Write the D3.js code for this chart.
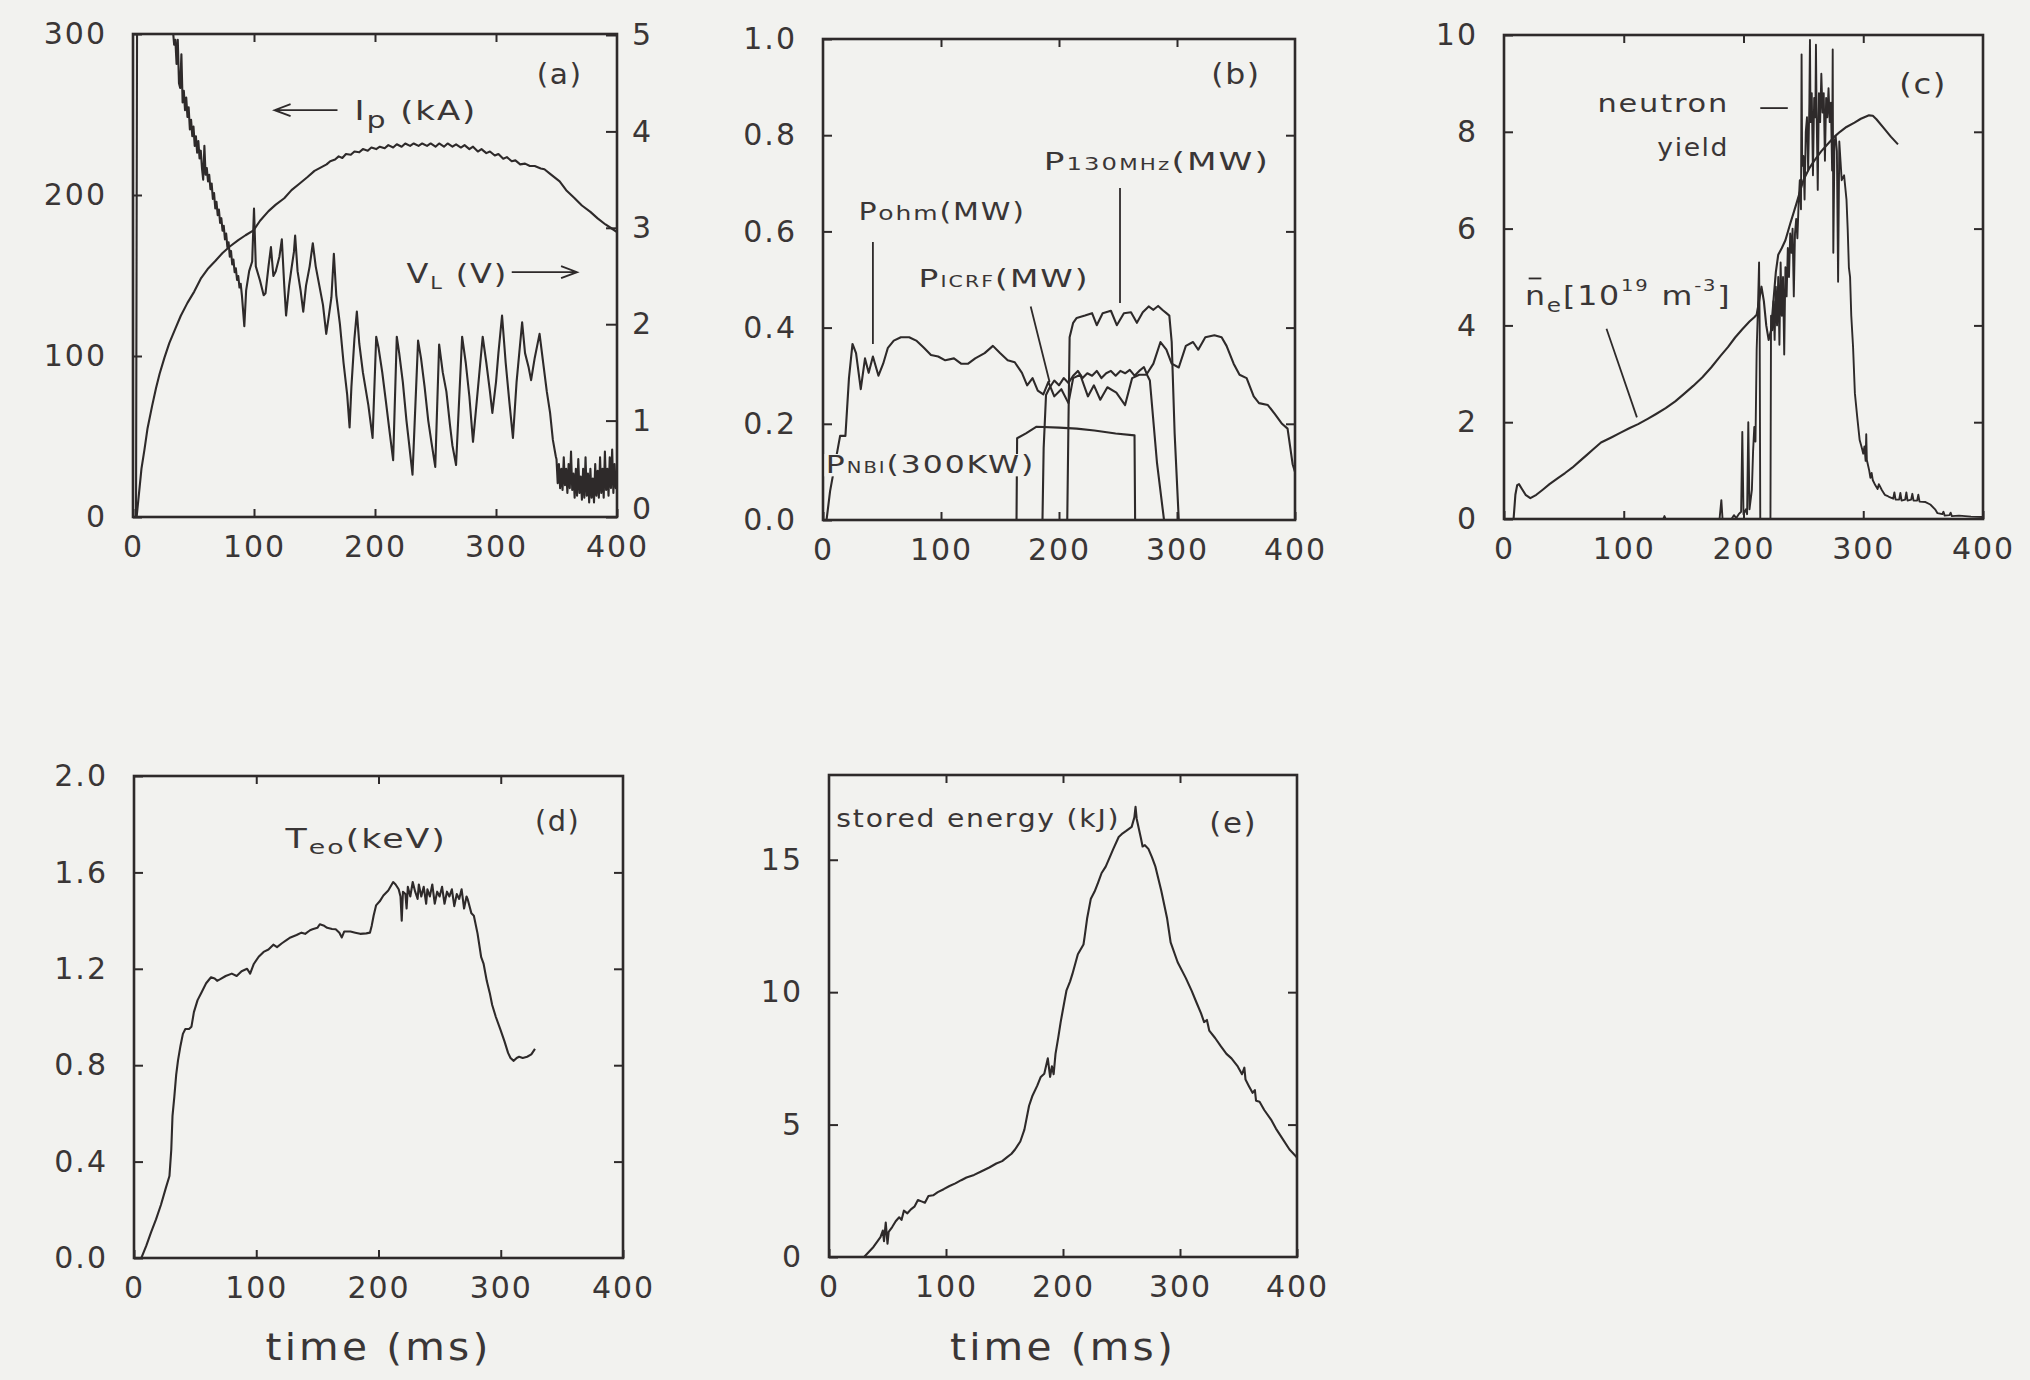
<!DOCTYPE html>
<html>
<head>
<meta charset="utf-8">
<title>Discharge waveforms</title>
<script src="https://cdn.jsdelivr.net/npm/d3@7/dist/d3.min.js"></script>
<style>
  html, body { margin: 0; padding: 0; background: #f2f2ef; }
  svg { display: block; }
</style>
</head>
<body>
<svg id="fig" width="2030" height="1380"></svg>
<script>
// ---------------------------------------------------------------- data
// time axis shared by all panels (ms)
const timeTicks = [0, 100, 200, 300, 400];

// (a) plasma current (kA) and loop voltage (V)
const ipTicks = [0, 100, 200, 300];
const vlTicks = [0, 1, 2, 3, 4, 5];
const plasmaCurrent = [
  [0,0],[3,0],[5,15],[7,30],[9.5,42],[12,55],[15.8,69],[19,80],[22,89],[26,99],[30,108],[35,117],
  [39.5,125],[45,133],[50.6,140],[56,148],[61.7,154],[68,159],[74,164],[80,168],[87,172],[93,175],
  [99.6,178],[105,184],[112,190],[118,194],[125,198],[131,203],[137.5,207],[144,211],[150,215],
  [155,217],[160,219],[163,221],[167,222],[170,224],[173,223],[176,225.5],[180,225],[183,227],
  [187,226.5],[190,228.5],[194,227.5],[197,229.5],[201,228.5],[204,230],[208,229],[211,231],
  [215,229.5],[218,231.5],[222,230],[225,232],[229,230.5],[232,232],[236,230.5],[239,232],
  [243,230.5],[246,232],[250,230],[253,232],[257,230],[260,232],[264,230],[267,231.5],[271,229.5],
  [274,231],[278,228.5],[281,230],[285,227],[288,228.5],[292,226],[295,227],[299,224.5],[302,225.5],
  [306,222.5],[309,223.5],[313,221],[316,221.5],[320,219],[324,219.5],[328,218],[332,218],
  [337,216.5],[340,216],[345,213],[352.6,208.5],[358,203],[365,198],[371,193.5],[378,189.5],
  [384,185.5],[390.5,181.7],[395,179.5],[400,177]
];
const loopVoltage = [
  [0,0],[2.5,0],[3.5,6],[32,6],[33,5.05],[34,4.9],[35,4.95],[36,4.7],[37,4.95],[38,4.5],[39,4.45],
  [40,4.8],[41,4.3],[42,4.42],[43,4.22],[44,4.35],[45,4.15],[46,4.25],[47,4.02],[48,4.12],[49,3.95],
  [50,4.05],[51,3.85],[52,3.95],[53,3.78],[54,3.9],[55,3.72],[56,3.8],[57,3.62],[58,3.5],[59,3.85],
  [60,3.55],[61,3.62],[62,3.48],[63,3.55],[64,3.4],[65,3.46],[66,3.3],[67,3.36],[68,3.2],[69,3.27],
  [70,3.13],[71,3.19],[72,3.05],[73,3.1],[74,2.97],[75,3.02],[76,2.88],[77,2.94],[78,2.8],[79,2.85],
  [80,2.7],[81,2.76],[82,2.62],[83,2.67],[84,2.54],[85,2.58],[86,2.46],[87,2.5],[88,2.38],[89,2.42],
  [90,2.3],[92,1.98],[93.5,2.35],[96,2.55],[98.5,2.65],[100,3.2],[101.5,2.6],[105,2.45],[108,2.3],
  [109.5,2.32],[112,2.6],[114,2.8],[116,2.5],[118,2.55],[121,2.7],[123,2.88],[125,2.4],[126.5,2.09],
  [129,2.4],[131,2.58],[133,2.75],[134,2.92],[136,2.55],[138.5,2.35],[140.7,2.13],[143,2.4],[146,2.6],
  [148.6,2.84],[151,2.6],[154,2.4],[157,2.2],[159.7,1.9],[162,2.1],[164,2.28],[166,2.73],[168,2.3],
  [171,2.0],[174,1.6],[177,1.27],[179,0.93],[180.5,1.35],[183,1.85],[185,2.13],[187,1.8],[190,1.5],
  [194.5,1.16],[198,0.82],[201,1.87],[203,1.75],[206,1.5],[209,1.2],[212,0.89],[215,0.59],
  [218,1.87],[220,1.7],[223,1.4],[226,1.0],[228,0.78],[231,0.44],[235.6,1.83],[238,1.65],
  [241,1.35],[244,1.0],[246.6,0.78],[249.8,0.52],[253,1.79],[256,1.5],[259,1.3],[262,0.95],
  [264,0.74],[267,0.54],[272,1.87],[275,1.6],[278,1.25],[281,0.78],[286,1.46],[289,1.87],
  [292,1.6],[295,1.3],[297,1.08],[300,1.4],[302,1.7],[305,2.09],[308,1.6],[311,1.2],[314,0.82],
  [317,1.4],[321.6,2.02],[324,1.7],[327,1.55],[329,1.42],[332,1.65],[336,1.9],[339,1.6],[342,1.3],
  [344.7,1.08],[347,0.8],[349.4,0.63],[350,0.6],[351,0.35],[352,0.55],[353,0.3],[354,0.5],
  [355,0.28],[356,0.62],[357,0.33],[358,0.5],[359,0.25],[360,0.55],[361,0.3],[362,0.68],
  [363,0.28],[364,0.45],[365,0.2],[366,0.5],[367,0.22],[368,0.6],[369,0.25],[370,0.42],[371,0.18],
  [372,0.5],[373,0.2],[374,0.62],[375,0.22],[376,0.45],[377,0.15],[378,0.5],[379,0.2],[380,0.4],
  [381,0.15],[382,0.55],[383,0.22],[384,0.48],[385,0.2],[386,0.62],[387,0.25],[388,0.5],[389,0.2],
  [390,0.68],[391,0.28],[392,0.5],[393,0.22],[394,0.62],[395,0.3],[396,0.7],[397,0.25],[398,0.55],
  [399,0.3],[400,0.45]
];

// (b) heating powers (MW)
const powerTicks = [0, 0.2, 0.4, 0.6, 0.8, 1.0];
const ohmicPower = [
  [3,0],[6,0.06],[14.5,0.175],[19,0.175],[22,0.295],[25,0.366],[28,0.347],[32,0.272],[35.6,0.336],
  [38.7,0.306],[42.3,0.34],[47,0.30],[51,0.325],[55,0.358],[60,0.373],[66,0.38],[73,0.38],[79,0.373],
  [85.5,0.358],[91.5,0.343],[97.6,0.34],[103.6,0.332],[111,0.336],[117,0.325],[123,0.325],[129,0.336],
  [137,0.347],[144,0.362],[150,0.347],[156.5,0.332],[162.5,0.328],[168.6,0.306],[173,0.28],
  [177.6,0.295],[182,0.269],[186.7,0.261],[191,0.287],[196,0.257],[202,0.272],[208,0.243],[212,0.295],
  [218,0.302],[224.5,0.257],[229.6,0.28],[235,0.25],[241,0.276],[248.6,0.265],[256,0.239],[262,0.295],
  [268,0.302],[274,0.302],[280,0.325],[286,0.37],[291,0.354],[295.5,0.325],[301.5,0.317],[307.5,0.362],
  [313.6,0.37],[318,0.354],[324,0.38],[331.7,0.384],[337.8,0.38],[342,0.362],[348,0.325],[353,0.302],
  [359,0.295],[365,0.257],[369.5,0.243],[377,0.239],[383,0.22],[389,0.2],[393.7,0.19],[398,0.116],
  [400,0.1]
];
const icrfPower = [
  [186,0],[187,0.15],[189,0.26],[192,0.275],[196,0.29],[200,0.28],[204,0.295],[208,0.285],[212,0.30],
  [216,0.31],[220,0.295],[224,0.305],[228,0.3],[232,0.31],[236,0.295],[240,0.305],[244,0.31],
  [248,0.3],[252,0.31],[256,0.305],[260,0.312],[264,0.3],[268,0.31],[272,0.318],[275,0.3],[277,0.29],
  [283,0.12],[289,0]
];
const mhz130Power = [
  [207,0],[208,0.2],[209,0.38],[212,0.41],[215,0.42],[222,0.425],[228,0.43],[232,0.405],[237,0.43],
  [244,0.435],[249,0.405],[255,0.43],[261,0.432],[266,0.41],[271,0.432],[276,0.444],[280,0.437],
  [284,0.445],[288,0.436],[291,0.43],[293.5,0.425],[295.5,0.37],[298,0.18],[301.5,0]
];
const nbiPower = [
  [164,0],[164.5,0.17],[172,0.18],[181,0.194],[200,0.192],[215,0.19],[230,0.186],[248,0.18],
  [264,0.176],[264.5,0]
];

// (c) line-averaged density (1e19 m^-3) and neutron yield (a.u.)
const densityTicks = [0, 2, 4, 6, 8, 10];
const lineDensity = [
  [8,0],[9.5,0.5],[11,0.7],[12.5,0.72],[15,0.62],[18,0.5],[22,0.43],[27,0.5],[32.6,0.61],[38,0.72],
  [44.7,0.84],[51,0.95],[57,1.06],[63,1.19],[69,1.32],[75,1.45],[81,1.58],[90,1.69],[97,1.78],
  [105,1.88],[112,1.96],[120,2.07],[127,2.17],[135,2.29],[143,2.43],[150.6,2.59],[158,2.75],
  [165.7,2.93],[173,3.13],[180.8,3.37],[187,3.55],[193,3.75],[199,3.92],[205,4.08],[209,4.17],
  [211,4.22],[213,4.5],[215,4.8],[217,4.5],[219,4.0],[221,3.7],[223,3.9],[225,4.5],[227,5.1],
  [229,5.46],[232,5.6],[235,5.76],[239,6.1],[244,6.5],[250,7.0],[255,7.25],[259,7.4],[265,7.6],
  [271.5,7.78],[276,7.9],[280.6,8.0],[286,8.1],[292.7,8.19],[298,8.27],[304.8,8.34],[308,8.33],
  [311,8.26],[317,8.08],[323,7.9],[329,7.74]
];
const neutronYield = [
  [0,0],[60,0],[133,0],[134,0.06],[135,0],[180,0],[181.5,0.39],[182.5,0],[190,0],[192,0.08],
  [194,0.02],[196,0.1],[198,0.15],[199,1.8],[200,0.1],[202,0.2],[203,0.1],[204,2.0],[205,0.2],
  [207,0.6],[208,1.4],[209,1.9],[210,1.6],[211,3.5],[212,4.3],[213,5.3],[213.5,4.0],[214,0],
  [222.5,0],[223,4.2],[224,3.9],[225,4.5],[226,3.7],[227,4.8],[228,4.0],[229,5.0],[230,3.6],
  [231,5.3],[232,4.2],[233,5.0],[234,3.4],[235,5.2],[236,4.6],[237,5.6],[238,5.0],[239,5.9],
  [240,5.5],[241,6.0],[242,4.6],[243,5.9],[244,6.2],[245,5.8],[246,6.5],[247,7.0],[248,6.4],
  [248.5,9.6],[249,7.3],[250,7.5],[251,6.6],[252,8.0],[253,8.3],[254,7.2],[255,8.6],[255.5,9.9],
  [256,8.2],[257,8.8],[258,7.1],[259,8.7],[260,8.3],[260.5,9.8],[261,8.5],[262,6.8],[263,8.8],
  [264,8.2],[265,9.2],[266,8.4],[267,8.8],[268,7.4],[269,8.7],[270,8.3],[271,8.9],[272,8.2],
  [273,8.6],[274,7.2],[274.5,9.7],[275,5.5],[276,7.8],[277,7.9],[278,7.6],[279,4.9],[280,7.8],
  [281,7.4],[282,7.0],[284,7.1],[286,6.6],[287,6.0],[288,5.2],[289,5.0],[290,4.2],[291.5,3.55],
  [293,2.6],[295,2.1],[297,1.63],[299,1.45],[300,1.35],[301,1.5],[302,1.2],[302.5,1.75],
  [303,1.22],[305,1.0],[306,0.85],[307,0.95],[308,0.8],[310,0.7],[312,0.62],[313,0.72],
  [315.5,0.6],[318,0.5],[320,0.48],[322,0.45],[325,0.42],[326,0.55],[327,0.4],[330,0.4],
  [331,0.54],[332,0.38],[335,0.4],[336,0.55],[337,0.38],[340,0.4],[341,0.52],[342,0.38],
  [345,0.38],[346,0.5],[347,0.36],[352,0.35],[356,0.3],[360,0.2],[362,0.12],[366,0.1],
  [367,0.15],[368,0.07],[372,0.08],[373,0.13],[374,0.06],[380,0.07],[390,0.05],[400,0.04]
];

// (d) central electron temperature (keV)
const tempTicks = [0, 0.4, 0.8, 1.2, 1.6, 2.0];
const electronTemp = [
  [6,0],[10,0.05],[14,0.107],[18,0.16],[22,0.22],[26,0.29],[29,0.34],[30.5,0.45],[31.5,0.59],
  [33,0.67],[34.5,0.76],[36,0.82],[38,0.88],[40,0.93],[42,0.95],[45,0.95],[47,0.96],[49,1.02],
  [52,1.07],[55,1.1],[59,1.14],[63,1.165],[66,1.16],[68,1.15],[70.6,1.157],[75,1.17],[80,1.18],
  [84,1.17],[88,1.19],[92.5,1.2],[95,1.18],[98,1.22],[102,1.25],[106,1.27],[110,1.28],[114,1.3],
  [117,1.29],[121,1.306],[125,1.32],[128,1.33],[133,1.34],[137,1.35],[140,1.345],[144,1.36],
  [146,1.364],[150,1.37],[152,1.385],[155,1.38],[158,1.37],[162,1.365],[165,1.364],[168,1.35],
  [170,1.33],[172,1.355],[177,1.355],[181,1.35],[185,1.345],[190,1.347],[193,1.35],[194.5,1.38],
  [196,1.42],[198,1.463],[201,1.48],[204,1.504],[208,1.525],[212,1.56],[214,1.55],[216.5,1.53],
  [218,1.5],[219,1.4],[220,1.52],[222,1.51],[223,1.45],[224,1.54],[226,1.5],[228,1.56],[230,1.52],
  [232,1.49],[233,1.55],[235,1.5],[237,1.54],[239,1.47],[240,1.53],[242,1.5],[244,1.55],[246,1.47],
  [248,1.52],[250,1.5],[252,1.54],[254,1.47],[256,1.52],[258,1.5],[260,1.53],[262,1.46],[264,1.51],
  [266,1.49],[268,1.53],[270,1.45],[272,1.5],[273,1.488],[276,1.43],[278,1.42],[281,1.347],
  [284,1.248],[286,1.22],[288.6,1.149],[291,1.1],[293,1.05],[296,1.0],[299.6,0.95],[303,0.9],
  [306,0.851],[308,0.83],[310.6,0.818],[313,0.83],[315,0.835],[318,0.83],[321.6,0.835],[325,0.845],
  [328,0.868]
];

// (e) plasma stored energy (kJ)
const energyTicks = [0, 5, 10, 15];
const storedEnergy = [
  [30,0],[38,0.38],[44,0.75],[46,1.0],[47,0.6],[48.5,1.3],[50,0.5],[51,0.95],[54,1.13],[57,1.35],
  [60,1.5],[62,1.4],[64,1.75],[67,1.65],[70,1.8],[73,1.9],[76,2.15],[79,2.1],[82,2.05],[85,2.3],
  [89,2.33],[93,2.45],[98,2.56],[103,2.68],[108,2.78],[113,2.9],[117.5,3.0],[124,3.1],[130,3.23],
  [137,3.38],[143,3.53],[148,3.62],[152,3.76],[156,3.9],[159,4.06],[163.5,4.36],[167,4.81],
  [171,5.71],[174,6.1],[178,6.47],[181,6.8],[184,6.92],[187,7.5],[189,6.8],[190.5,7.2],[192,6.9],
  [193.6,7.67],[196,8.3],[198,8.87],[201,9.6],[203,10.07],[206,10.4],[208,10.68],[212.7,11.43],
  [217.5,11.8],[218.5,12.1],[220.6,12.78],[223.8,13.53],[227,13.8],[230,14.14],[233,14.5],
  [236.5,14.74],[240,15.1],[243,15.41],[247.6,15.86],[251,16.0],[254,16.09],[258.7,16.24],
  [261,16.6],[262,17.0],[263,16.54],[266.7,15.79],[268,15.5],[270,15.55],[273,15.41],[276,15.1],
  [279,14.74],[284,13.83],[289,12.78],[292,11.88],[298,11.13],[305,10.53],[310,10.05],[314,9.62],
  [318,9.2],[320.6,8.87],[323,8.95],[325,8.55],[330,8.27],[335,7.95],[339.7,7.67],[344,7.5],
  [349,7.22],[353,6.9],[355,7.15],[356,6.7],[358.7,6.47],[362,6.2],[364,6.3],[365,5.9],[368,5.86],
  [372,5.55],[377.8,5.19],[382,4.85],[387,4.51],[393.6,4.06],[400,3.76]
];

// ---------------------------------------------------------------- drawing
const INK = "#2e2a2a";
const TEXT = "#3a3636";
const PAPER = "#f2f2ef";
const FONT = "'DejaVu Sans', 'Liberation Sans', sans-serif";

const svg = d3.select("#fig");
svg.append("rect").attr("width", 2030).attr("height", 1380).attr("fill", PAPER);
const defs = svg.append("defs");

function buildPanel(key, box, yDomain) {
  const x = d3.scaleLinear().domain([0, 400]).range([box.x0, box.x1]);
  const y = d3.scaleLinear().domain(yDomain).range([box.y1, box.y0]);
  defs.append("clipPath").attr("id", "clip-" + key)
    .append("rect")
    .attr("x", box.x0).attr("y", box.y0)
    .attr("width", box.x1 - box.x0).attr("height", box.y1 - box.y0);
  const g = svg.append("g").attr("class", "panel panel-" + key);
  const plot = g.append("g").attr("clip-path", `url(#clip-${key})`);
  return { key, box, x, y, g, plot };
}

function styleAxis(sel) {
  sel.select(".domain").remove();
  sel.selectAll(".tick line").attr("stroke", INK).attr("stroke-width", 2);
  sel.selectAll(".tick text")
    .attr("fill", TEXT).attr("font-family", FONT)
    .attr("font-size", 30).attr("letter-spacing", 2);
}

function drawAxes(p, yTicks, yFormat, opts = {}) {
  const b = p.box;
  const inner = (arr) => arr.slice(1, -1);
  // bottom: time labels
  p.g.append("g").attr("transform", `translate(0,${b.y1})`)
    .call(d3.axisBottom(p.x).tickValues(timeTicks).tickFormat(d3.format("d"))
      .tickSizeInner(-8).tickSizeOuter(0).tickPadding(19))
    .call(styleAxis);
  // top: ticks only
  p.g.append("g").attr("transform", `translate(0,${b.y0})`)
    .call(d3.axisTop(p.x).tickValues(inner(timeTicks)).tickFormat("")
      .tickSizeInner(-8).tickSizeOuter(0))
    .call(styleAxis);
  // left: value labels
  p.g.append("g").attr("transform", `translate(${b.x0},0)`)
    .call(d3.axisLeft(p.y).tickValues(yTicks).tickFormat(yFormat)
      .tickSizeInner(-9).tickSizeOuter(0).tickPadding(26))
    .call(styleAxis);
  // right: ticks only, or a second labelled scale
  if (opts.rightScale) {
    const ax = p.g.append("g").attr("transform", `translate(${b.x1},0)`)
      .call(d3.axisRight(opts.rightScale).tickValues(opts.rightTicks).tickFormat(d3.format("d"))
        .tickSizeInner(-11).tickSizeOuter(0).tickPadding(15))
      .call(styleAxis);
    // lift the bottom label clear of the time labels
    ax.selectAll(".tick text").filter(d => d === 0).attr("dy", "0.05em");
  } else {
    p.g.append("g").attr("transform", `translate(${b.x1},0)`)
      .call(d3.axisRight(p.y).tickValues(inner(yTicks)).tickFormat("")
        .tickSizeInner(-9).tickSizeOuter(0))
      .call(styleAxis);
  }
}

function drawFrame(p) {
  const b = p.box;
  p.g.append("rect")
    .attr("x", b.x0).attr("y", b.y0)
    .attr("width", b.x1 - b.x0).attr("height", b.y1 - b.y0)
    .attr("fill", "none").attr("stroke", INK).attr("stroke-width", 2.6);
}

function trace(p, data, yScale, width) {
  const ys = yScale || p.y;
  const line = d3.line().x(d => p.x(d[0])).y(d => ys(d[1]));
  p.plot.append("path").datum(data)
    .attr("d", line)
    .attr("fill", "none").attr("stroke", INK)
    .attr("stroke-width", width || 2.1)
    .attr("stroke-linejoin", "round");
}

// Wide plotter-style lettering: runs of [string, fontSize, baselineOffsetPx],
// stretched horizontally so the run spans x0..x1.
function lettering(parent, runs, x0, x1, yBase, spacing) {
  const g = parent.append("g");
  const txt = g.append("text")
    .attr("font-family", FONT).attr("fill", TEXT)
    .attr("letter-spacing", spacing == null ? 1.5 : spacing);
  let cur = 0;
  runs.forEach(([s, size, off]) => {
    const o = off || 0;
    txt.append("tspan").attr("font-size", size).attr("dy", o - cur).text(s);
    cur = o;
  });
  const natural = txt.node().getComputedTextLength();
  const sx = (x1 - x0) / natural;
  g.attr("transform", `translate(${x0},${yBase}) scale(${sx},1)`);
  return { g, txt };
}

function note(p, runs, t0, t1, v, yScale, spacing) {
  const ys = yScale || p.y;
  return lettering(p.g, runs, p.x(t0), p.x(t1), ys(v), spacing);
}

function leader(p, a, b, yScale) {
  const ys = yScale || p.y;
  p.g.append("line")
    .attr("x1", p.x(a[0])).attr("y1", ys(a[1]))
    .attr("x2", p.x(b[0])).attr("y2", ys(b[1]))
    .attr("stroke", INK).attr("stroke-width", 1.8);
}

function arrow(p, tFrom, tTo, v, yScale) {
  const ys = yScale || p.y;
  const x1 = p.x(tFrom), x2 = p.x(tTo), yy = ys(v);
  const dir = Math.sign(x2 - x1);
  p.g.append("path")
    .attr("d", `M${x1},${yy}L${x2},${yy}M${x2 - dir * 16},${yy - 6}L${x2},${yy}L${x2 - dir * 16},${yy + 6}`)
    .attr("fill", "none").attr("stroke", INK).attr("stroke-width", 1.8);
}

// ---- the five panels (pixel frames)
const pa = buildPanel("a", { x0: 133, x1: 617, y0: 34, y1: 517 }, [0, 300]);
const pb = buildPanel("b", { x0: 823, x1: 1295, y0: 39, y1: 520 }, [0, 1.0]);
const pc = buildPanel("c", { x0: 1504, x1: 1983, y0: 35, y1: 519 }, [0, 10]);
const pd = buildPanel("d", { x0: 134, x1: 623, y0: 776, y1: 1258 }, [0, 2.0]);
const pe = buildPanel("e", { x0: 829, x1: 1297, y0: 775, y1: 1257 }, [0, 18.2]);

// (a) plasma current / loop voltage
const vScale = d3.scaleLinear().domain([0, 5]).range([pa.box.y1, pa.box.y0 + 1]);
drawAxes(pa, ipTicks, d3.format("d"), { rightScale: vScale, rightTicks: vlTicks });
trace(pa, plasmaCurrent);
trace(pa, loopVoltage, vScale);
drawFrame(pa);
note(pa, [["(a)", 29]], 333.6, 371.5, 4.49, vScale);
arrow(pa, 169, 117, 4.22, vScale);
note(pa, [["I", 26], ["p", 23, 8], [" (kA)", 26, 0]], 183, 284.6, 4.12, vScale);
note(pa, [["V", 26], ["L", 17, 6], [" (V)", 26, 0]], 226, 310, 2.43, vScale);
arrow(pa, 313, 367, 2.54, vScale);

// (b) heating powers
drawAxes(pb, powerTicks, d3.format(".1f"));
trace(pb, ohmicPower);
trace(pb, icrfPower);
trace(pb, mhz130Power);
trace(pb, nbiPower);
drawFrame(pb);
note(pb, [["(b)", 29]], 329, 371, 0.907);
note(pb, [["P", 24], ["ohm", 20], ["(MW)", 24]], 30, 172, 0.623);
leader(pb, [42.3, 0.578], [42.3, 0.366]);
note(pb, [["P", 24], ["130", 17], ["MHz", 15], ["(MW)", 24]], 187, 379, 0.728);
leader(pb, [251.7, 0.69], [251.7, 0.451]);
note(pb, [["P", 24], ["ICRF", 15], ["(MW)", 24]], 81, 226, 0.485);
leader(pb, [176, 0.444], [192, 0.287]);
const nbi = note(pb, [["P", 24], ["NBI", 15], ["(300KW)", 24]], 2.4, 180, 0.097);
const bb = nbi.txt.node().getBBox();
nbi.g.insert("rect", "text")
  .attr("x", bb.x - 1).attr("y", bb.y + 3).attr("width", bb.width + 2).attr("height", bb.height - 6)
  .attr("fill", PAPER);

// (c) density and neutrons
drawAxes(pc, densityTicks, d3.format("d"));
trace(pc, neutronYield, null, 1.9);
trace(pc, lineDensity);
drawFrame(pc);
note(pc, [["(c)", 29]], 330, 370, 8.78);
note(pc, [["neutron", 25]], 78, 188, 8.41);
note(pc, [["yield", 25]], 128, 188, 7.51);
leader(pc, [214, 8.49], [237, 8.49]);
note(pc, [["n", 26], ["e", 19, 7], ["[10", 26, 0], ["19", 16, -14], [" m", 26, 0], ["-3", 16, -14], ["]", 26, 0]],
  17.5, 190, 4.42);
leader(pc, [20.6, 4.97], [31.2, 4.97]);
leader(pc, [85.6, 3.93], [111, 2.1]);

// (d) electron temperature
drawAxes(pd, tempTicks, d3.format(".1f"));
trace(pd, electronTemp);
drawFrame(pd);
note(pd, [["(d)", 29]], 328, 365, 1.77);
note(pd, [["T", 26], ["eo", 20, 6], ["(keV)", 26, 0]], 124, 256, 1.70);

// (e) stored energy
drawAxes(pe, energyTicks, d3.format("d"));
trace(pe, storedEnergy);
drawFrame(pe);
note(pe, [["(e)", 29]], 325, 366, 16.0);
note(pe, [["stored energy (kJ)", 24]], 6.3, 249, 16.24);

// time titles under the bottom row
[pd, pe].forEach(p => {
  const cx = p.x(200), w = 226;
  lettering(svg, [["time (ms)", 38]], cx - w / 2, cx + w / 2, 1360, 3);
});
</script>
</body>
</html>
